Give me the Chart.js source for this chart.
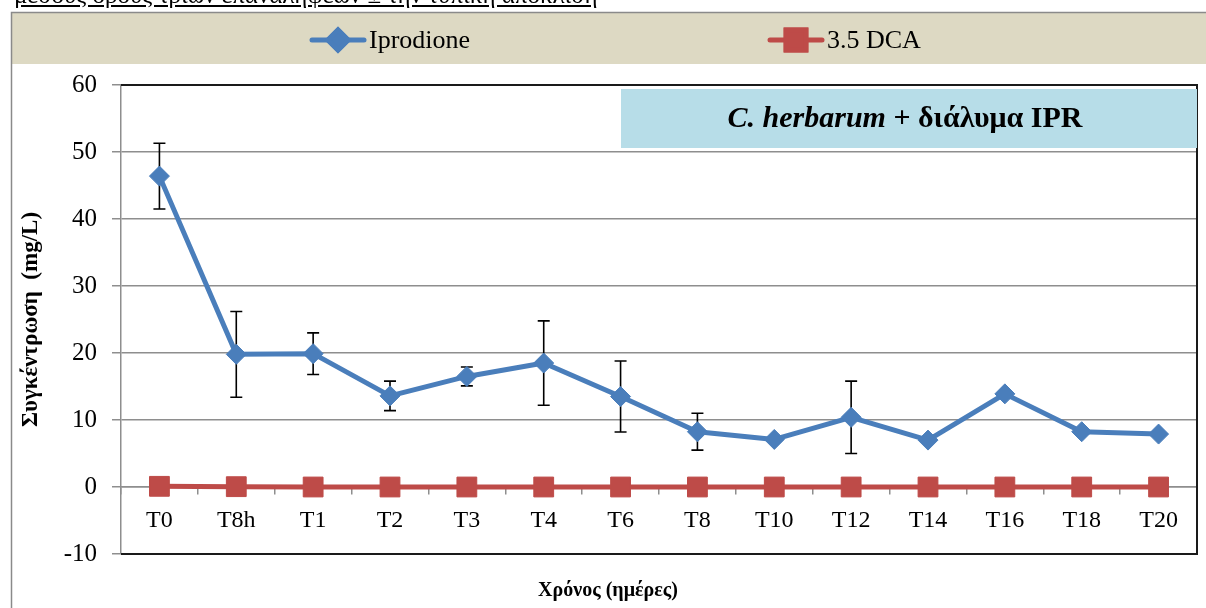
<!DOCTYPE html>
<html>
<head>
<meta charset="utf-8">
<script src="https://cdn.jsdelivr.net/npm/chart.js@4.4.1/dist/chart.umd.min.js"></script>
<style>
  html, body { margin: 0; padding: 0; background: #fff; overflow: hidden; width: 1206px; height: 608px; }
  #wrap { position: relative; width: 1206px; height: 608px; }
  #c { position: absolute; left: 0; top: 0; }
  #cap { position: absolute; left: 14px; top: -18px; font: 25px/25px 'Liberation Serif', 'Times New Roman', serif;
         text-decoration: underline; white-space: nowrap; color: #000; z-index: 2; }
</style>
</head>
<body>
<div id="wrap">
  <canvas id="c" width="1206" height="608"></canvas>
  <div id="cap">μέσους όρους τριών επαναλήψεων ± την τυπική απόκλιση</div>
</div>
<script>
// Sampling times
const categories = ['T0', 'T8h', 'T1', 'T2', 'T3', 'T4', 'T6', 'T8', 'T10', 'T12', 'T14', 'T16', 'T18', 'T20'];
// Iprodione concentration (mg/L) and its standard deviation
const iprodione = [46.4, 19.8, 19.9, 13.6, 16.5, 18.5, 13.5, 8.25, 7.1, 10.4, 7.0, 13.9, 8.25, 7.9];
const iprodioneSD = [4.9, 6.4, 3.1, 2.2, 1.4, 6.3, 5.3, 2.75, 0, 5.4, 0, 0, 0, 0];
// 3,5-DCA concentration (mg/L)
const dca = [0.1, 0.05, 0, 0, 0, 0, 0, 0, 0, 0, 0, 0, 0, 0];
// Value axis ticks
const yTicks = [-10, 0, 10, 20, 30, 40, 50, 60];

const SERIF = "'Liberation Serif', 'Times New Roman', serif";
const BLUE = '#4a7ebb';
const RED = '#be4b48';
const GRID = '#8e8e8e';

Chart.defaults.font.family = SERIF;
Chart.defaults.color = '#000';

// Outer frame and the legend band behind everything
const backdrop = {
  id: 'backdrop',
  beforeDraw(chart) {
    const ctx = chart.ctx;
    ctx.save();
    ctx.fillStyle = '#ddd9c3';
    ctx.fillRect(12, 13, 1194, 51);
    ctx.strokeStyle = '#8a8a8a';
    ctx.lineWidth = 1.5;
    ctx.beginPath();
    ctx.moveTo(11.5, 608);
    ctx.lineTo(11.5, 12.5);
    ctx.lineTo(1206, 12.5);
    ctx.stroke();
    ctx.restore();
  }
};

// Black frame on top/right/bottom of the plot, the caption box and the error bars
const plotExtras = {
  id: 'plotExtras',
  beforeDatasetsDraw(chart) {
    const ctx = chart.ctx;
    const a = chart.chartArea;
    ctx.save();
    ctx.strokeStyle = '#1a1a1a';
    ctx.lineWidth = 2;
    ctx.beginPath();
    ctx.moveTo(a.left, a.top);
    ctx.lineTo(a.right, a.top);
    ctx.lineTo(a.right, a.bottom);
    ctx.lineTo(a.left, a.bottom);
    ctx.stroke();

    // caption box
    ctx.fillStyle = '#b7dde8';
    ctx.fillRect(621, 89, a.right - 621, 59);
    const part1 = 'C. herbarum';
    const part2 = ' + διάλυμα IPR';
    ctx.font = 'italic bold 30px ' + SERIF;
    const w1 = ctx.measureText(part1).width;
    ctx.font = 'bold 30px ' + SERIF;
    const w2 = ctx.measureText(part2).width;
    let x = 905 - (w1 + w2) / 2;
    ctx.fillStyle = '#000';
    ctx.textBaseline = 'middle';
    ctx.textAlign = 'left';
    ctx.font = 'italic bold 30px ' + SERIF;
    ctx.fillText(part1, x, 119);
    ctx.font = 'bold 30px ' + SERIF;
    ctx.fillText(part2, x + w1, 119);

    // error bars (mean ± SD)
    const xs = chart.scales.x, ys = chart.scales.y;
    ctx.strokeStyle = '#000';
    ctx.lineWidth = 1.6;
    iprodione.forEach((v, i) => {
      const sd = iprodioneSD[i];
      if (!sd) return;
      const px = xs.getPixelForValue(i);
      const yt = ys.getPixelForValue(v + sd);
      const yb = ys.getPixelForValue(v - sd);
      ctx.beginPath();
      ctx.moveTo(px, yt); ctx.lineTo(px, yb);
      ctx.moveTo(px - 6, yt); ctx.lineTo(px + 6, yt);
      ctx.moveTo(px - 6, yb); ctx.lineTo(px + 6, yb);
      ctx.stroke();
    });
    ctx.restore();
  }
};

// Legend row (line + marker + label) and the category axis title
const legendAndTitle = {
  id: 'legendAndTitle',
  afterDraw(chart) {
    const ctx = chart.ctx;
    const slots = [310, 768];
    ctx.save();
    chart.data.datasets.forEach((ds, i) => {
      const x0 = slots[i], y = 40;
      ctx.strokeStyle = ds.borderColor;
      ctx.lineWidth = 5;
      ctx.lineCap = 'round';
      ctx.beginPath();
      ctx.moveTo(x0 + 2, y); ctx.lineTo(x0 + 54, y);
      ctx.stroke();
      Chart.helpers.drawPoint(ctx, {
        pointStyle: ds.pointStyle,
        radius: ds.pointRadius,
        borderWidth: 1,
        rotation: 0
      }, x0 + 28, y);
      ctx.fillStyle = ds.pointBackgroundColor;
      ctx.strokeStyle = ds.pointBorderColor;
      ctx.fill();
      ctx.stroke();
      ctx.fillStyle = '#000';
      ctx.font = '26px ' + SERIF;
      ctx.textBaseline = 'middle';
      ctx.textAlign = 'left';
      ctx.fillText(ds.label, x0 + 59, y + 1);
    });
    ctx.font = 'bold 20px ' + SERIF;
    ctx.textAlign = 'center';
    ctx.textBaseline = 'middle';
    ctx.fillStyle = '#000';
    ctx.fillText('Χρόνος (ημέρες)', 608, 591);
    ctx.restore();
  }
};

new Chart(document.getElementById('c'), {
  type: 'line',
  data: {
    labels: categories,
    datasets: [
      {
        label: 'Iprodione',
        data: iprodione,
        borderColor: BLUE,
        backgroundColor: BLUE,
        borderWidth: 5,
        borderJoinStyle: 'round',
        borderCapStyle: 'round',
        tension: 0,
        pointStyle: 'rectRot',
        pointRadius: 10,
        pointBackgroundColor: BLUE,
        pointBorderColor: BLUE,
        pointBorderWidth: 1,
        order: 1
      },
      {
        label: '3.5 DCA',
        data: dca,
        borderColor: RED,
        backgroundColor: RED,
        borderWidth: 5,
        borderJoinStyle: 'round',
        borderCapStyle: 'round',
        tension: 0,
        pointStyle: 'rect',
        pointRadius: 14,
        pointBackgroundColor: RED,
        pointBorderColor: RED,
        pointBorderWidth: 1,
        order: 2
      }
    ]
  },
  options: {
    responsive: false,
    animation: false,
    events: [],
    layout: { autoPadding: false, padding: { top: 85, right: 9, bottom: 54, left: 0 } },
    plugins: {
      legend: { display: false },
      tooltip: { enabled: false },
      title: { display: false }
    },
    scales: {
      x: {
        type: 'category',
        position: { y: 0 },
        offset: true,
        afterFit(scale) { scale.paddingLeft = 0; scale.paddingRight = 0; },
        grid: { offset: true, drawOnChartArea: false, drawTicks: true, tickLength: 7, color: GRID, lineWidth: 1.5 },
        border: { display: true, color: GRID, width: 1.5 },
        ticks: { font: { size: 24 }, color: '#000', padding: 12, maxRotation: 0, autoSkip: false }
      },
      y: {
        min: yTicks[0],
        max: yTicks[yTicks.length - 1],
        afterFit(scale) { scale.width = 121; },
        ticks: { stepSize: yTicks[1] - yTicks[0], font: { size: 25 }, color: '#000', padding: 15 },
        grid: { color: GRID, lineWidth: 1.5, tickLength: 9, drawTicks: true },
        border: { display: true, color: GRID, width: 1.5 },
        title: {
          display: true,
          text: 'Συγκέντρωση  (mg/L)',
          font: { size: 23, weight: 'bold' },
          color: '#000',
          padding: { top: 17, bottom: 0 }
        }
      }
    }
  },
  plugins: [backdrop, plotExtras, legendAndTitle]
});
</script>
</body>
</html>
